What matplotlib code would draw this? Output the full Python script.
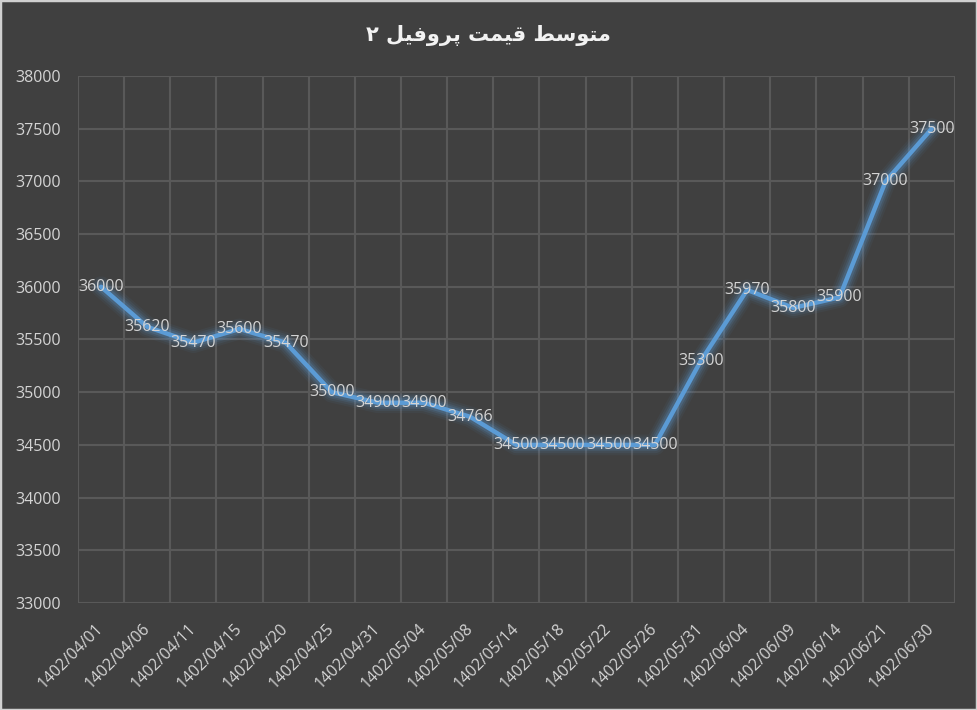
import numpy as np
import matplotlib
matplotlib.use("Agg")
import matplotlib.pyplot as plt
from matplotlib.patches import Rectangle
from matplotlib.ticker import FixedLocator, MultipleLocator

# data
title = "متوسط قیمت پروفیل ۲"
dates = ["1402/04/01", "1402/04/06", "1402/04/11", "1402/04/15", "1402/04/20",
         "1402/04/25", "1402/04/31", "1402/05/04", "1402/05/08", "1402/05/14",
         "1402/05/18", "1402/05/22", "1402/05/26", "1402/05/31", "1402/06/04",
         "1402/06/09", "1402/06/14", "1402/06/21", "1402/06/30"]
prices = [36000, 35620, 35470, 35600, 35470, 35000, 34900, 34900, 34766, 34500,
          34500, 34500, 34500, 35300, 35970, 35800, 35900, 37000, 37500]

# matplotlib does no arabic shaping, so pick presentation forms by hand
FORMS = {
    'م': ('\uFEE1', '\uFEE2', '\uFEE3', '\uFEE4'),
    'ت': ('\uFE95', '\uFE96', '\uFE97', '\uFE98'),
    'و': ('\uFEED', '\uFEEE'),
    'س': ('\uFEB1', '\uFEB2', '\uFEB3', '\uFEB4'),
    'ط': ('\uFEC1', '\uFEC2', '\uFEC3', '\uFEC4'),
    'ق': ('\uFED5', '\uFED6', '\uFED7', '\uFED8'),
    'ی': ('\uFBFC', '\uFBFD', '\uFBFE', '\uFBFF'),
    'پ': ('\uFB56', '\uFB57', '\uFB58', '\uFB59'),
    'ر': ('\uFEAD', '\uFEAE'),
    'ف': ('\uFED1', '\uFED2', '\uFED3', '\uFED4'),
    'ل': ('\uFEDD', '\uFEDE', '\uFEDF', '\uFEE0'),
}


def shape(s):
    out = []
    for i, c in enumerate(s):
        if c not in FORMS:
            out.append(c)
            continue
        f = FORMS[c]
        prev = s[i - 1] if i > 0 else ''
        nxt = s[i + 1] if i + 1 < len(s) else ''
        jp = prev in FORMS and len(FORMS[prev]) == 4
        jn = len(f) == 4 and nxt in FORMS
        if jp and jn:
            out.append(f[3])
        elif jp:
            out.append(f[1])
        elif jn:
            out.append(f[2])
        else:
            out.append(f[0])
    return ''.join(out[::-1])


bg = '#404040'
grid_c = '#595959'
txt_c = '#d4d4d4'
line_c = '#5b9bd5'

plt.rcParams['font.family'] = ['Open Sans', 'DejaVu Sans']

fig = plt.figure(figsize=(9.77, 7.10), dpi=100, facecolor=bg)
ax = fig.add_axes([0.0798, 0.1507, 0.8975, 0.7423], facecolor=bg)
fig.patches.append(Rectangle((0, 0), 1, 1, transform=fig.transFigure,
                             fill=False, edgecolor='#d0d0d0', lw=2.5))

x = np.arange(len(dates))

# glow
for lw, a in [(15, 0.06), (12, 0.09), (9, 0.13), (6.5, 0.2)]:
    ax.plot(x, prices, color=line_c, lw=lw, alpha=a, solid_capstyle='round',
            solid_joinstyle='round', zorder=2)
ax.plot(x, prices, color=line_c, lw=3.2, solid_capstyle='round',
        solid_joinstyle='round', zorder=3)

for xi, v in zip(x, prices):
    ax.text(xi, v, str(v), ha='center', va='center', color=txt_c,
            fontsize=11.5, zorder=4)

ax.set_xlim(-0.5, len(dates) - 0.5)
ax.set_ylim(33000, 38000)
ax.yaxis.set_major_locator(MultipleLocator(500))
ax.xaxis.set_major_locator(FixedLocator(x))
ax.xaxis.set_minor_locator(FixedLocator(np.arange(-0.5, len(dates), 1)))
ax.set_xticklabels(dates, rotation=45, ha='right', va='center',
                   rotation_mode='anchor')
ax.tick_params(axis='x', which='major', length=0, pad=17, colors=txt_c,
               labelsize=11.5)
ax.tick_params(axis='x', which='minor', length=0)
ax.tick_params(axis='y', length=0, pad=12, colors=txt_c, labelsize=11.5)
ax.grid(True, axis='y', color=grid_c, lw=1.5)
ax.grid(True, axis='x', which='minor', color=grid_c, lw=1.5)
ax.grid(False, axis='x', which='major')
ax.set_axisbelow(True)
for s in ax.spines.values():
    s.set_visible(False)

fig.text(0.5, 0.95, shape(title), ha='center', va='center', color='#f2f2f2',
         fontsize=15, fontweight='bold', family=['DejaVu Sans'])

fig.savefig('out.png', dpi=100, facecolor=bg)
